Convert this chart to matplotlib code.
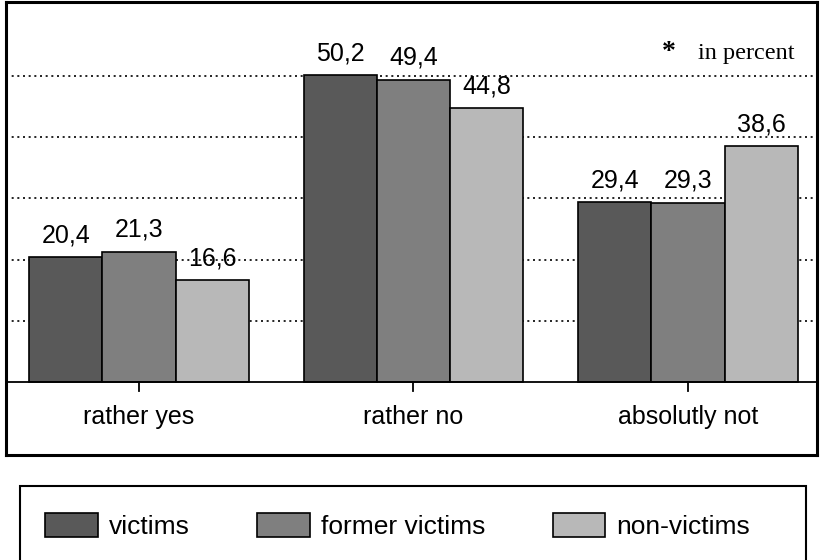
import numpy as np
import matplotlib
matplotlib.use("Agg")
import matplotlib.pyplot as plt
from matplotlib.patches import Rectangle

# answers (in percent) per group
categories = ["rather yes", "rather no", "absolutly not"]
victims = [20.4, 50.2, 29.4]
former_victims = [21.3, 49.4, 29.3]
non_victims = [16.6, 44.8, 38.6]

series = [("victims", victims, "#595959"),
          ("former victims", former_victims, "#7f7f7f"),
          ("non-victims", non_victims, "#b8b8b8")]

plt.rcParams["font.family"] = ["Liberation Sans", "DejaVu Sans"]

fig = plt.figure(figsize=(8.24, 5.6), dpi=100)
ax = fig.add_axes([6/824, 1 - 455/560, 811/824, 453/560])

x = np.arange(len(categories))
w = 0.267
handles = []
for i, (name, vals, col) in enumerate(series):
    bars = ax.bar(x + (i - 1) * w, vals, w, color=col, edgecolor="black",
                  linewidth=1.2, zorder=3, label=name)
    ax.bar_label(bars, labels=[f"{v:.1f}".replace(".", ",") for v in vals],
                 padding=7, fontsize=18)
    handles.append(bars)

# dotted grid, baseline and category ticks
for g in [10, 20, 30, 40, 50]:
    ax.axhline(g, color="black", linestyle=(0, (1.2, 2.2)), linewidth=1.2,
               zorder=1)
ax.axhline(0, color="black", linewidth=1.3, zorder=4)
for xi, cat in zip(x, categories):
    ax.plot([xi, xi], [0, -1.5], color="black", linewidth=1.3, zorder=4)
    ax.text(xi, -6.8, cat, ha="center", va="baseline", fontsize=18)

ax.text(1.93, 52.8, "*", ha="center", va="baseline", fontsize=20,
        family="Liberation Serif", fontweight="bold")
ax.text(2.036, 52.8, "in percent", ha="left", va="baseline", fontsize=17.5,
        family="Liberation Serif")

ax.set_xlim(-0.4845, 2.47)
ax.set_ylim(-11.93, 62.1)
ax.set_xticks([])
ax.set_yticks([])
for s in ax.spines.values():
    s.set_linewidth(2.2)

# legend box below the chart
fig.patches.append(Rectangle((20/824, -0.05), 786/824, 1 - 486/560 + 0.05,
                             transform=fig.transFigure, fill=False,
                             edgecolor="black", linewidth=1.5))
leg = fig.legend(handles=handles, loc="upper left",
                 bbox_to_anchor=(45/824, 1 - 513/560), ncol=3, fontsize=19,
                 frameon=False, handlelength=2.0, handleheight=1.0,
                 handletextpad=0.42, columnspacing=2.55, borderpad=0,
                 borderaxespad=0)

fig.savefig("out.png", dpi=100)
